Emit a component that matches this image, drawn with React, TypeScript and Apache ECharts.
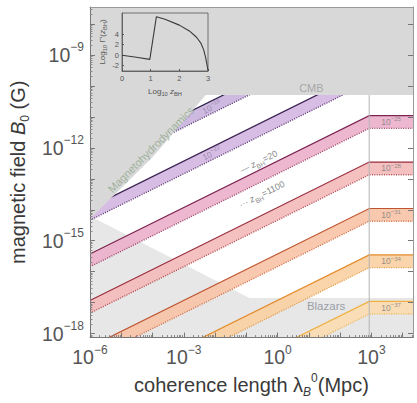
import React, { useEffect, useRef } from "react";
import * as echarts from "echarts";

const FONT = '"Liberation Sans", Arial, Helvetica, sans-serif';

// ---- axis ranges (log10 units) ----
const logLambdaRange = [-6, 4.33];
const logBRange = [-18.13, -7.45];
const xTickLabels = [-6, -3, 0, 3];
const yTickLabels = [-18, -15, -12, -9];

// ---- bands (log10 B), label exponents ----
const bandParamExp = [-19, -22, -25, -28, -31, -34, -37];
const bandTopAtLeft = [-12.43, -13.93, -15.43, -16.93, -18.43, -19.93, -21.43];
const bandTopAtKink = [-7.96, -9.46, -10.96, -12.46, -13.96, -15.46, -16.96];
const bandThickness = [0.41, 0.41, 0.41, 0.41, 0.41, 0.41, 0.41];
const kinkLogLambda = 2.93;

// ---- excluded regions ----
const cmbLogB = -10.29;
const mhdLogLambda = [-6, -5.2, -4.0, -3.1, -2.3];
const mhdLogB = [-14.3, -13.5, -12.3, -11.25, -10.29];
const blazarLogLambda = [-6, -0.9, 4.33];
const blazarLogB = [-14.2, -16.85, -16.85];

// ---- inset ----
const insetLogZ = [0, 0.5, 0.97, 1.2, 1.5, 2.0, 2.35, 2.6, 2.75, 2.85, 2.92, 2.97, 3.0];
const insetLogGamma = [0.0, -0.4, -0.8, 7.3, 6.8, 5.7, 4.6, 3.4, 2.3, 1.0, -0.5, -2.0, -2.9];
const insetYTicks = [-2, 0, 2, 4];

// ---- styles ----
const bandFill = ["#c9b1dd", "#d3b5e1", "#ebb0ca", "#f3b9b9", "#f7c2a6", "#f9cfa1", "#fbdcb1"];
const bandLine = ["#2e1f4a", "#3d2556", "#7c2550", "#9a2d3f", "#bd5530", "#e38a2a", "#f0b040"];
const bandDot = ["#4f3a6e", "#5b3c72", "#9a4468", "#b24e55", "#d27048", "#e39a45", "#eeb85a"];
const greyDark = "#d8d8d8";
const greyLight = "#e7e7e7";

const fmtExp = (v: number) => {
  const r = Math.round(v);
  return r < 0 ? "\u2212" + Math.abs(r) : String(r);
};

const majorX: number[] = [];
for (let n = -6; n <= 4; n++) majorX.push(n);
const minorX: number[] = [];
for (let n = -6; n <= 4; n++)
  for (let k = 2; k <= 9; k++) {
    const v = n + Math.log10(k);
    if (v < logLambdaRange[1]) minorX.push(v);
  }
const majorY: number[] = [];
for (let n = -18; n <= -8; n++) majorY.push(n);
const minorY: number[] = [];
for (let n = -19; n <= -8; n++)
  for (let k = 2; k <= 9; k++) {
    const v = n + Math.log10(k);
    if (v > logBRange[0] && v < logBRange[1]) minorY.push(v);
  }

const tickRich = {
  b: { fontSize: 19.5, color: "#555", fontFamily: FONT, lineHeight: 27 },
  sup: { fontSize: 12, color: "#555", fontFamily: FONT, verticalAlign: "top", lineHeight: 14 },
};
const tickFmt = (v: number) => `{b|10}{sup|${fmtExp(v)}}`;

const clipOf = (params: any) => {
  const c = params.coordSys;
  return { type: "rect", shape: { x: c.x, y: c.y, width: c.width, height: c.height } };
};

const angle = 26.2;

function smallRich(color: string, size: number) {
  return {
    b: { fontSize: size, color, fontFamily: FONT, lineHeight: size + 4 },
    sup: { fontSize: size * 0.72, color, fontFamily: FONT, verticalAlign: "top", lineHeight: size * 0.8 },
    i: { fontSize: size, color, fontFamily: FONT, fontStyle: "italic", lineHeight: size + 4 },
    sub: { fontSize: size * 0.72, color, fontFamily: FONT, verticalAlign: "bottom", lineHeight: size * 0.8 },
  };
}

function bandTopAt(i: number, lx: number) {
  if (lx >= kinkLogLambda) return bandTopAtKink[i];
  const t = (lx - logLambdaRange[0]) / (kinkLogLambda - logLambdaRange[0]);
  return bandTopAtLeft[i] + t * (bandTopAtKink[i] - bandTopAtLeft[i]);
}

function buildOption() {
  const xMin = logLambdaRange[0];
  const xMax = logLambdaRange[1];
  const yMin = logBRange[0];
  const yMax = logBRange[1];

  const annotations: any[] = [
    { value: [-4.05, -12.05], text: "{b|Magnetohydrodynamics}", rotate: 45, rich: smallRich("#8fa58b", 11) },
    { value: [1.08, -10.07], text: "{b|CMB}", rotate: 0, rich: smallRich("#9a9a9a", 11) },
    { value: [1.55, -17.11], text: "{b|Blazars}", rotate: 0, rich: smallRich("#858a96", 11.5) },
    { value: [-0.6, -12.45], text: "{b|\u2014 }{i|z}{sub|BH}{b|=20}", rotate: angle, rich: smallRich("#666", 9) },
    { value: [-0.5, -13.5], text: "{b|\u00b7\u00b7\u00b7 }{i|z}{sub|BH}{b|=1100}", rotate: angle, rich: smallRich("#666", 9) },
  ];
  [0, 1].forEach((i) => {
    const lx = -2.1;
    annotations.push({
      value: [lx, bandTopAt(i, lx) - bandThickness[i] / 2],
      text: `{b|10}{sup|${fmtExp(bandParamExp[i])}}`,
      rotate: angle,
      rich: smallRich("#8a7b9c", 8.5),
    });
  });
  for (let i = 2; i < bandParamExp.length; i++) {
    annotations.push({
      value: [3.63, bandTopAtKink[i] - bandThickness[i] / 2],
      text: `{b|10}{sup|${fmtExp(bandParamExp[i])}}`,
      rotate: 0,
      rich: smallRich("#7a7a7a", 8.5),
    });
  }

  const bandSeries = {
    type: "custom",
    xAxisIndex: 0,
    yAxisIndex: 0,
    z: 2,
    clip: true,
    silent: true,
    data: bandTopAtKink.map((v, i) => [kinkLogLambda, v, i]),
    renderItem: (params: any, api: any) => {
      const i = api.value(2);
      const w = bandThickness[i];
      const top = [
        [xMin, bandTopAtLeft[i]],
        [kinkLogLambda, bandTopAtKink[i]],
        [xMax, bandTopAtKink[i]],
      ];
      const bottom = top.map((p) => [p[0], p[1] - w]);
      const topPx = top.map((p) => api.coord(p));
      const botPx = bottom.map((p) => api.coord(p));
      return {
        type: "group",
        clipPath: clipOf(params),
        children: [
          {
            type: "polygon",
            shape: { points: topPx.concat(botPx.slice().reverse()) },
            style: { fill: bandFill[i], opacity: 0.9 },
          },
          {
            type: "polyline",
            shape: { points: topPx },
            style: { stroke: bandLine[i], lineWidth: 1.2, fill: "none" },
          },
          {
            type: "polyline",
            shape: { points: botPx },
            style: { stroke: bandDot[i], lineWidth: 1.4, lineDash: [1, 1.4], fill: "none" },
          },
        ],
      };
    },
  };

  const regionSeries = (pts: () => number[][], fill: string, z: number) => ({
    type: "custom",
    xAxisIndex: 0,
    yAxisIndex: 0,
    z,
    clip: true,
    silent: true,
    data: [[0, -12]],
    renderItem: (params: any, api: any) => ({
      type: "polygon",
      clipPath: clipOf(params),
      shape: { points: pts().map((p) => api.coord(p)) },
      style: { fill },
    }),
  });

  const blazarPts = () => {
    const p = blazarLogLambda.map((x, k) => [x, blazarLogB[k]]);
    return p.concat([[xMax, yMin - 1], [xMin, yMin - 1]]);
  };
  const cmbPts = () => [
    [xMin, cmbLogB],
    [xMax, cmbLogB],
    [xMax, yMax + 1],
    [xMin, yMax + 1],
  ];
  const mhdPts = () => {
    const p = mhdLogLambda.map((x, k) => [x, mhdLogB[k]]);
    return p.concat([[mhdLogLambda[mhdLogLambda.length - 1], yMax + 1], [xMin - 1, yMax + 1], [xMin - 1, mhdLogB[0] - 1]]);
  };

  const axisCommon = {
    type: "value",
    z: 10,
    splitLine: { show: false },
  };

  const titleRich = {
    t: { fontSize: 20, color: "#3a3a3a", fontFamily: FONT, lineHeight: 26 },
    i: { fontSize: 20, color: "#3a3a3a", fontFamily: FONT, fontStyle: "italic", lineHeight: 26 },
    sub: { fontSize: 12, color: "#3a3a3a", fontFamily: FONT, verticalAlign: "bottom", lineHeight: 13 },
    isub: { fontSize: 12, color: "#3a3a3a", fontFamily: FONT, fontStyle: "italic", verticalAlign: "bottom", lineHeight: 13 },
    sup: { fontSize: 12, color: "#3a3a3a", fontFamily: FONT, verticalAlign: "top", lineHeight: 13 },
  };

  return {
    animation: false,
    backgroundColor: "#fff",
    textStyle: { fontFamily: FONT },
    grid: [
      { left: 80, right: 4, top: 7, bottom: 57, show: false },
      { left: 122, top: 13, width: 86, height: 58, show: true, z: 10, borderColor: "#555", borderWidth: 0.8, backgroundColor: "transparent" },
    ],
    xAxis: [
      {
        ...axisCommon,
        gridIndex: 0,
        min: xMin,
        max: xMax,
        position: "bottom",
        axisLine: { show: true, onZero: false, lineStyle: { color: "#777", width: 1 } },
        axisTick: { show: true, inside: true, length: 5, customValues: majorX, lineStyle: { color: "#777" } },
        axisLabel: { show: true, customValues: xTickLabels, formatter: tickFmt, rich: tickRich, margin: 6 },
        name: "{t|coherence length \u03bb}{isub|B}{sup|0}{t|(Mpc)}",
        nameLocation: "middle",
        nameGap: 28,
        nameTextStyle: { rich: titleRich },
      },
      {
        ...axisCommon,
        gridIndex: 0,
        min: xMin,
        max: xMax,
        position: "bottom",
        axisLine: { show: false, onZero: false },
        axisTick: { show: true, inside: true, length: 2.5, customValues: minorX, lineStyle: { color: "#888" } },
        axisLabel: { show: false },
      },
      {
        ...axisCommon,
        gridIndex: 0,
        min: xMin,
        max: xMax,
        position: "top",
        axisLine: { show: true, onZero: false, lineStyle: { color: "#999", width: 1 } },
        axisTick: { show: false },
        axisLabel: { show: false },
      },
      {
        ...axisCommon,
        gridIndex: 1,
        min: 0,
        max: 3,
        interval: 1,
        z: 11,
        axisLine: { show: true, onZero: false, lineStyle: { color: "#555", width: 0.8 } },
        axisTick: { show: true, inside: true, length: 2, lineStyle: { color: "#555" } },
        axisLabel: { fontSize: 7.5, color: "#555", margin: 3, fontFamily: FONT },
        name: "{b|Log}{sub|10}{b| }{i|z}{sub|BH}",
        nameLocation: "middle",
        nameGap: 14,
        nameTextStyle: { rich: smallRich("#555", 8) },
      },
    ],
    yAxis: [
      {
        ...axisCommon,
        gridIndex: 0,
        min: yMin,
        max: yMax,
        position: "left",
        axisLine: { show: true, onZero: false, lineStyle: { color: "#777", width: 1 } },
        axisTick: { show: true, inside: true, length: 5, customValues: majorY, lineStyle: { color: "#777" } },
        axisLabel: { show: true, customValues: yTickLabels, formatter: tickFmt, rich: tickRich, margin: 6 },
        name: "{t|magnetic field }{i|B}{sub|0}{t| (G)}",
        nameLocation: "middle",
        nameGap: 49,
        nameRotate: 90,
        nameTextStyle: { rich: titleRich },
      },
      {
        ...axisCommon,
        gridIndex: 0,
        min: yMin,
        max: yMax,
        position: "left",
        axisLine: { show: false, onZero: false },
        axisTick: { show: true, inside: true, length: 2.5, customValues: minorY, lineStyle: { color: "#888" } },
        axisLabel: { show: false },
      },
      {
        ...axisCommon,
        gridIndex: 0,
        min: yMin,
        max: yMax,
        position: "right",
        axisLine: { show: true, onZero: false, lineStyle: { color: "#999", width: 1 } },
        axisTick: { show: true, inside: true, length: 5, customValues: majorY, lineStyle: { color: "#777" } },
        axisLabel: { show: false },
      },
      {
        ...axisCommon,
        gridIndex: 1,
        min: -3,
        max: 8,
        z: 11,
        axisLine: { show: true, onZero: false, lineStyle: { color: "#555", width: 0.8 } },
        axisTick: { show: true, inside: true, length: 2, customValues: insetYTicks, lineStyle: { color: "#555" } },
        axisLabel: { customValues: insetYTicks, fontSize: 7.5, color: "#555", margin: 3, fontFamily: FONT },
        name: "{b|Log}{sub|10}{b| \u0393\u2032(}{i|z}{sub|BH}{b|)}",
        nameLocation: "middle",
        nameGap: 10,
        nameRotate: 90,
        nameTextStyle: { rich: smallRich("#555", 8) },
      },
    ],
    series: [
      regionSeries(blazarPts, greyLight, 1),
      bandSeries,
      {
        type: "line",
        xAxisIndex: 0,
        yAxisIndex: 0,
        z: 3,
        silent: true,
        symbol: "none",
        data: [
          [kinkLogLambda, yMin],
          [kinkLogLambda, cmbLogB],
        ],
        lineStyle: { color: "#b5b5b5", width: 1 },
      },
      regionSeries(cmbPts, greyDark, 4),
      regionSeries(mhdPts, greyDark, 4),
      {
        type: "scatter",
        xAxisIndex: 0,
        yAxisIndex: 0,
        z: 6,
        silent: true,
        symbolSize: 1,
        itemStyle: { color: "rgba(0,0,0,0)" },
        label: { show: true, position: "inside" },
        data: annotations.map((a) => ({
          value: a.value,
          label: { show: true, position: "inside", formatter: a.text, rotate: a.rotate, rich: a.rich },
        })),
      },
      {
        type: "line",
        xAxisIndex: 3,
        yAxisIndex: 3,
        z: 12,
        silent: true,
        symbol: "none",
        data: insetLogZ.map((x, k) => [x, insetLogGamma[k]]),
        lineStyle: { color: "#3a3a3a", width: 1.1 },
      },
    ],
  };
}

export default function App() {
  const ref = useRef<HTMLDivElement>(null);
  useEffect(() => {
    if (!ref.current) return;
    const chart = echarts.init(ref.current, null, { renderer: "svg" });
    chart.setOption(buildOption() as any);
    return () => chart.dispose();
  }, []);
  return (
    <div
      ref={ref}
      style={{ position: "fixed", left: 0, top: 0, width: 417, height: 403, background: "#fff" }}
    />
  );
}
